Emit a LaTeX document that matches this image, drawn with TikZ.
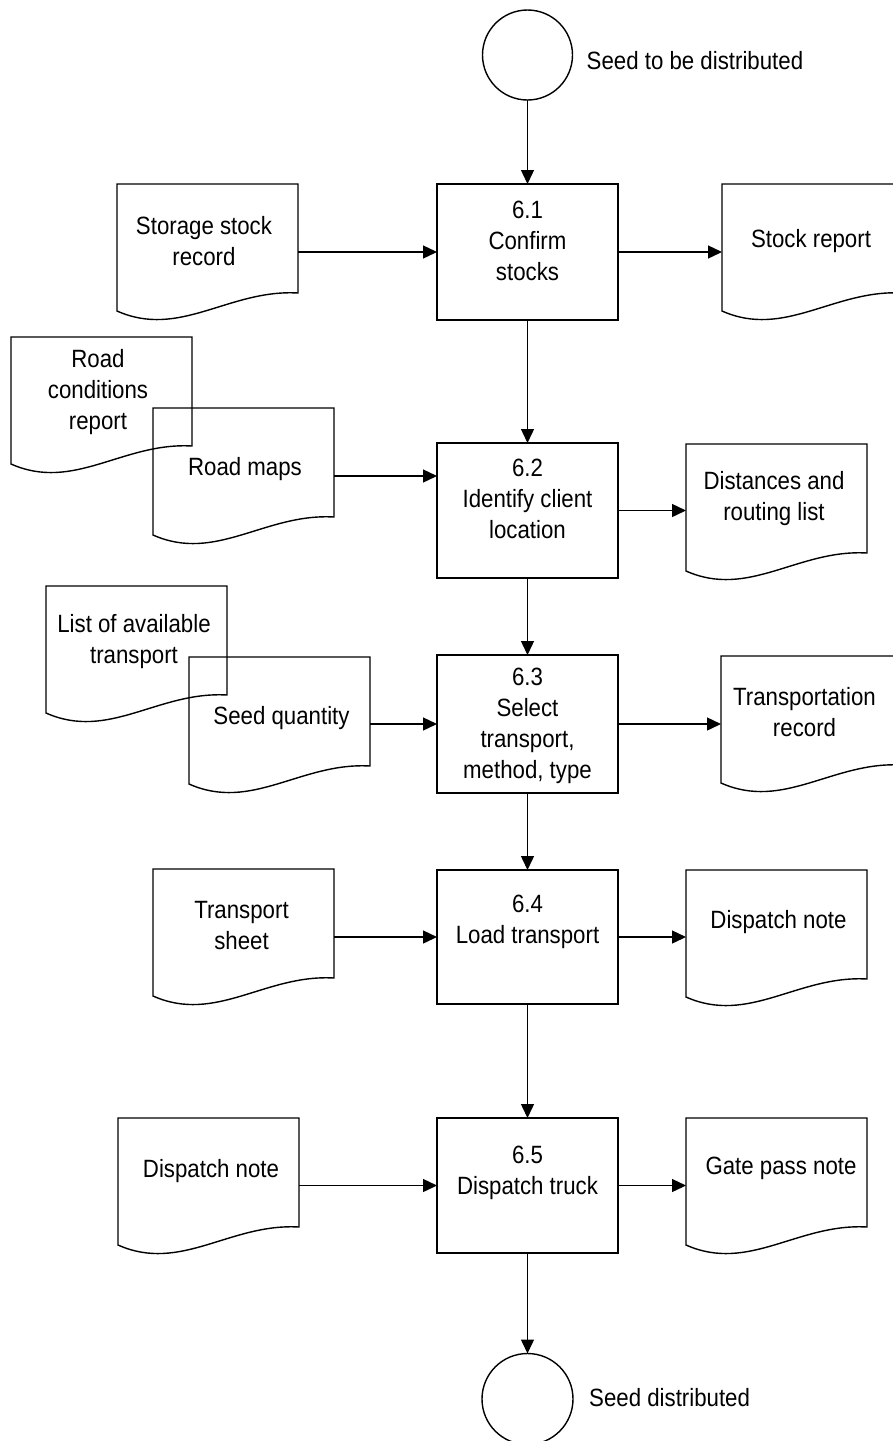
\documentclass[tikz,border=0pt]{standalone}
\usepackage{fontspec}
\setmainfont{Liberation Sans}[FakeStretch=0.89]
\usetikzlibrary{arrows.meta,calc}

\tikzset{
  outline/.style={line width=1.4pt, line join=miter},
  proc/.style={draw, line width=1.4pt, minimum width=181pt, inner sep=0pt, outer sep=0pt, anchor=north west},
  docnode/.style={minimum width=181pt, minimum height=127pt, inner sep=0pt, outer sep=0pt, anchor=north west},
  term/.style={circle, draw, line width=1.4pt, inner sep=0pt, outer sep=0pt},
  txt/.style={font=\fontsize{25}{31}\selectfont, align=center, inner sep=0pt},
  flow/.style={line width=1.4pt, -{Triangle[length=14pt,width=13pt]}},
}

% document symbol: flat top, straight sides, wavy bottom edge
\newcommand\docshape[1]{%
  \draw[outline] (#1.north west) -- (#1.north east) -- ($(#1.south east)+(0,-18)$)
    .. controls ($(#1.south west)+(112,-22)$) and ($(#1.south west)+(63,28)$) .. (#1.south west) -- cycle;}

\begin{document}
\begin{tikzpicture}[x=1pt,y=-1pt]
\clip (0,0) rectangle (893,1441);

% terminators
\node[term, minimum size=90pt] (start) at (527.5,55) {};
\node[txt, anchor=west] (startlbl) at ($(start.east)+(14,6)$) {Seed to be distributed};
\node[term, minimum size=91pt] (finish) at (527.5,1399) {};
\node[txt, anchor=west] (finishlbl) at ($(finish.east)+(16,-1)$) {Seed distributed};

% processes
\node[proc, minimum height=136pt] (p1) at (437,184) {};
\node[proc, minimum height=135pt] (p2) at (437,443) {};
\node[proc, minimum height=138pt] (p3) at (437,655) {};
\node[proc, minimum height=134pt] (p4) at (437,870) {};
\node[proc, minimum height=135pt] (p5) at (437,1118) {};

\node[txt] (p1t) at ($(p1.north)+(0,57)$) {6.1\\Confirm\\stocks};
\node[txt] (p2t) at ($(p2.north)+(0,56)$) {6.2\\Identify client\\location};
\node[txt] (p3t) at ($(p3.north)+(0,71)$) {6.3\\Select\\transport,\\method, type};
\node[txt] (p4t) at ($(p4.north)+(0,52)$) {6.4\\Load transport};
\node[txt] (p5t) at ($(p5.north)+(0,55)$) {6.5\\Dispatch truck};

% input documents
\node[docnode] (sr)  at (117,184) {};
\node[docnode] (rc)  at (11,337) {};
\node[docnode] (rm)  at (153,408) {};
\node[docnode] (lt)  at (46,586) {};
\node[docnode] (sq)  at (189,657) {};
\node[docnode] (ts)  at (153,869) {};
\node[docnode] (dl)  at (118,1118) {};
% output documents
\node[docnode] (srp) at (722,184) {};
\node[docnode] (dr)  at (686,444) {};
\node[docnode] (tr)  at (721,656) {};
\node[docnode] (dn)  at (686,870) {};
\node[docnode] (gp)  at (686,1118) {};

\foreach \d in {sr,rc,rm,lt,sq,ts,dl,srp,dr,tr,dn,gp}{\docshape{\d}}

\node[txt] (srt)  at (204,241.5) {Storage stock\\record};
\node[txt] (rct)  at (98,392.5) {Road\\conditions\\report};
\node[txt] (rmt)  at (245,469) {Road maps};
\node[txt] (ltt)  at (134,641.5) {List of available\\transport};
\node[txt] (sqt)  at (281.5,718) {Seed quantity};
\node[txt] (tst)  at (241.5,926) {Transport\\sheet};
\node[txt] (dlt)  at (211,1171) {Dispatch note};
\node[txt] (srpt) at (811,241) {Stock report};
\node[txt] (drt)  at (774,498.5) {Distances and\\routing list};
\node[txt] (trt)  at (804.5,712) {Transportation\\record};
\node[txt] (dnt)  at (778.5,922) {Dispatch note};
\node[txt] (gpt)  at (781,1168) {Gate pass note};

% main flow
\draw[flow] (start) -- (p1);
\draw[flow] (p1) -- (p2);
\draw[flow] (p2) -- (p3);
\draw[flow] (p3) -- (p4);
\draw[flow] (p4) -- (p5);
\draw[flow] (p5) -- (finish);

% inputs
\draw[flow] (sr.east |- p1.west) -- (p1.west);
\coordinate (rmout) at ($(rm.east)+(0,4.5)$);
\draw[flow] (rmout) -- (rmout -| p2.west);
\draw[flow] (sq.east |- p3.west) -- (p3.west);
\draw[flow] (ts.east |- p4.west) -- (p4.west);
\draw[flow] (dl.east |- p5.west) -- (p5.west);

% outputs
\draw[flow] (p1.east) -- (p1.east -| srp.west);
\draw[flow] (p2.east) -- (p2.east -| dr.west);
\draw[flow] (p3.east) -- (p3.east -| tr.west);
\draw[flow] (p4.east) -- (p4.east -| dn.west);
\draw[flow] (p5.east) -- (p5.east -| gp.west);
\end{tikzpicture}
\end{document}
